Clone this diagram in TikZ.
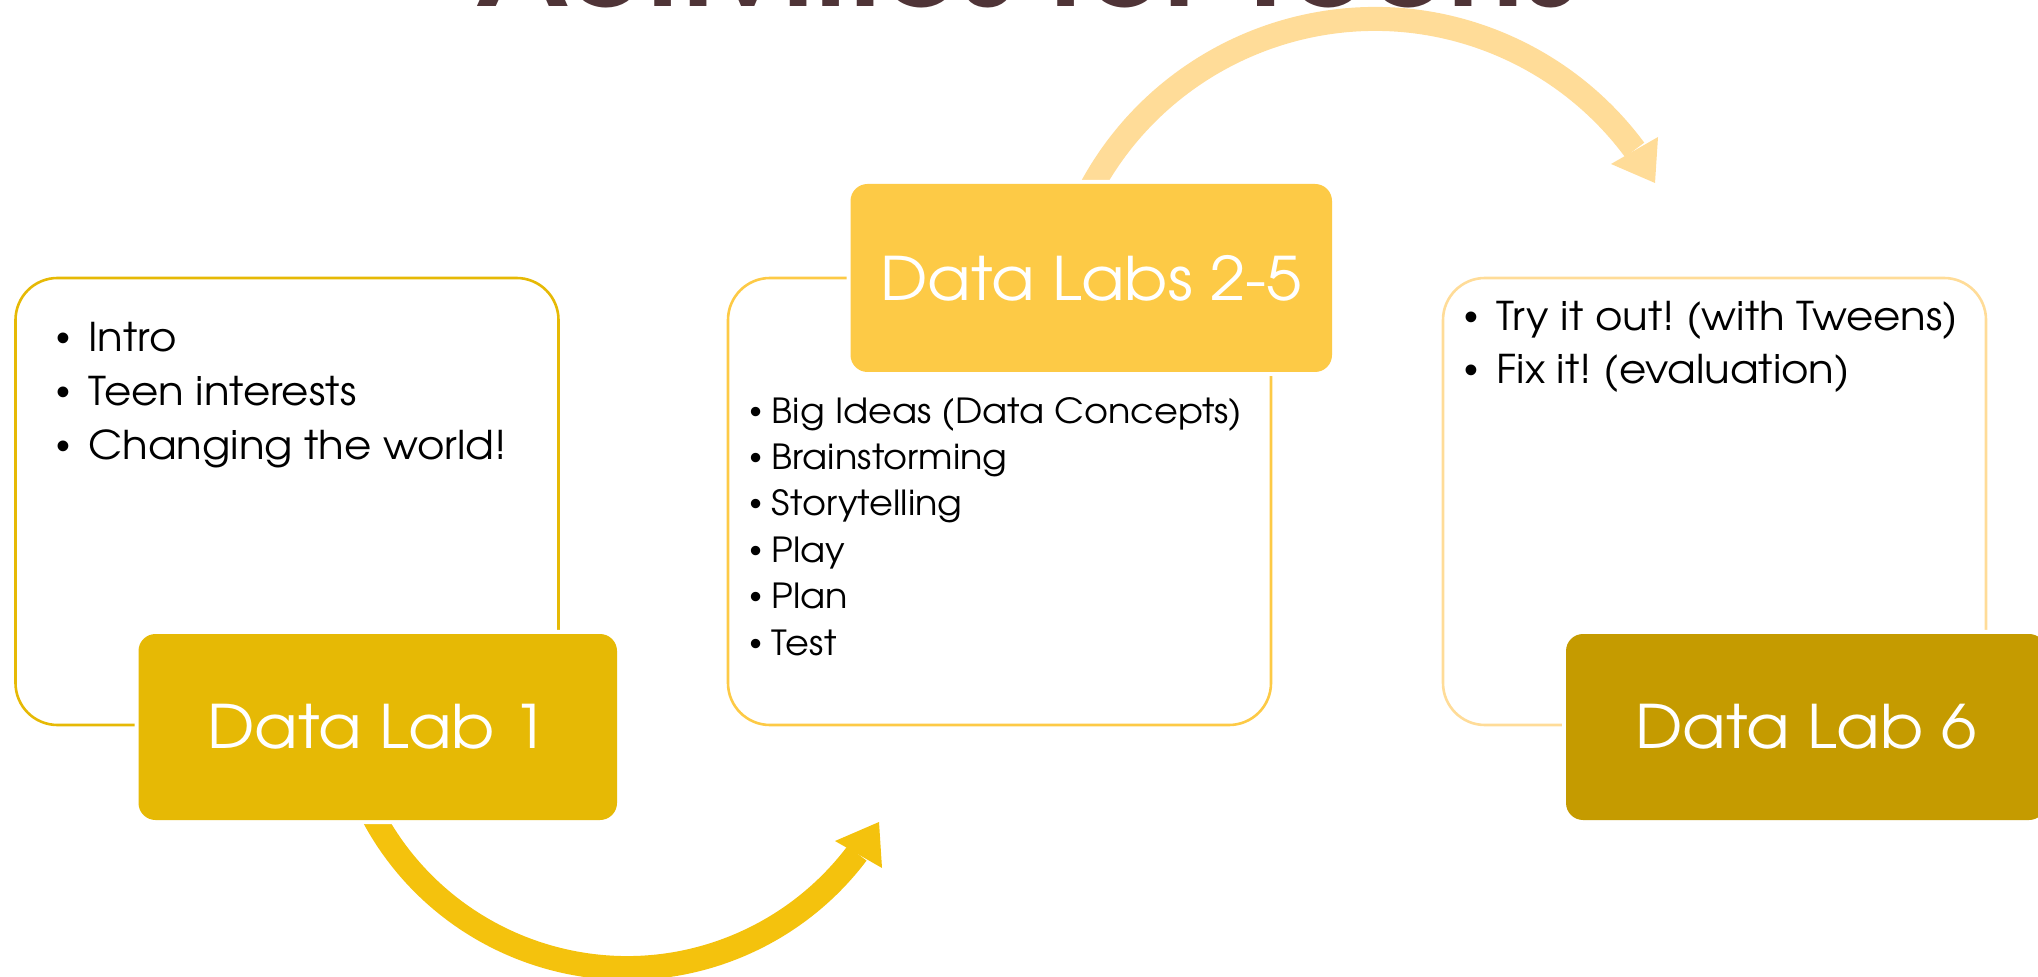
\documentclass[tikz,border=0pt]{standalone}
\usepackage{fontspec}
\IfFontExistsTF{TeX Gyre Adventor}{\setmainfont{TeX Gyre Adventor}[FakeStretch=1.06]}{\setmainfont{Poppins}}
\newfontfamily\bulfont{Liberation Sans}
\frenchspacing
\definecolor{goldA}{HTML}{E6B905}
\definecolor{arrowA}{HTML}{F4C20D}
\definecolor{goldB}{HTML}{FDCA46}
\definecolor{paleC}{HTML}{FFDC98}
\definecolor{darkC}{HTML}{C59B00}
\definecolor{titlebrown}{HTML}{4F3437}
\tikzset{
  outl/.style={draw=#1, line width=1.3pt, rounded corners=21pt, inner sep=0pt,
    minimum width=271.5pt, minimum height=223.5pt},
  labbox/.style={fill=#1, rounded corners=8.5pt, inner sep=0pt,
    preaction={draw=white, line width=4pt}, text=white,
    font=\fontsize{30}{36}\selectfont, minimum height=93pt},
  itemA/.style={anchor=base west, inner sep=0pt, font=\fontsize{19.8}{24}\selectfont},
  itemB/.style={anchor=base west, inner sep=0pt, font=\fontsize{17.3}{21}\selectfont},
  bulA/.style={anchor=base, inner sep=0pt, font=\bulfont\fontsize{19.8}{24}\selectfont},
  bulB/.style={anchor=base, inner sep=0pt, font=\bulfont\fontsize{17.3}{21}\selectfont},
  band/.style={draw=#1, line width=12pt},
}
\begin{document}
\begin{tikzpicture}[x=0.5pt,y=0.5pt]
\clip (0,0) rectangle (2038,-977);
% title (only its lower edge is visible)
\node[anchor=base, inner sep=0pt, text=titlebrown, font=\fontsize{59}{70}\selectfont\bfseries] (title) at (1027,-7) {Activities for Teens};
% curved arrows
\draw[band=arrowA] (627,-680) ++(205:288) arc[start angle=205, end angle=323, radius=288];
\fill[arrowA] (879,-822) -- (835,-841) -- (882,-868) -- cycle;
\draw[band=paleC] (1375,-342) ++(156:323) arc[start angle=156, end angle=36.5, radius=323];
\fill[paleC] (1655,-183) -- (1658,-137) -- (1611,-164) -- cycle;
% outline boxes
\node[outl=goldA] (box1) at (287,-501.5) {};
\node[outl=goldB] (box2) at (999.5,-501.5) {};
\node[outl=paleC] (box3) at (1714.5,-501.5) {};
% filled title boxes
\node[labbox=goldA, minimum width=239.25pt] (lab1) at (377.75,-727) {Data Lab 1};
\node[labbox=goldB, minimum width=240.75pt, minimum height=94pt] (lab25) at (1091.25,-278) {Data Labs 2-5};
\node[labbox=darkC, minimum width=240pt] (lab6) at (1806,-727) {Data Lab 6};
% box 1 items
\node[bulA] (b1a) at (63,-351.7) {•};
\node[itemA] (t1a) at (88,-351.7) {Intro};
\node[bulA] (b1b) at (63,-406) {•};
\node[itemA] (t1b) at (88,-406) {Teen interests};
\node[bulA] (b1c) at (63,-459.3) {•};
\node[itemA] (t1c) at (88,-459.3) {Changing the world!};
% box 2 items
\node[bulB] (b2a) at (755.6,-423.6) {•};
\node[itemB] (t2a) at (771.4,-423.6) {Big Ideas (Data Concepts)};
\node[bulB] (b2b) at (755.6,-469.3) {•};
\node[itemB] (t2b) at (771.4,-469.3) {Brainstorming};
\node[bulB] (b2c) at (755.6,-515.4) {•};
\node[itemB] (t2c) at (771.4,-515.4) {Storytelling};
\node[bulB] (b2d) at (755.6,-562.9) {•};
\node[itemB] (t2d) at (771.4,-562.9) {Play};
\node[bulB] (b2e) at (755.6,-608.6) {•};
\node[itemB] (t2e) at (771.4,-608.6) {Plan};
\node[bulB] (b2f) at (755.6,-655) {•};
\node[itemB] (t2f) at (771.4,-655) {Test};
% box 3 items
\node[bulA] (b3a) at (1471,-331) {•};
\node[itemA] (t3a) at (1496,-331) {Try it out! (with Tweens)};
\node[bulA] (b3b) at (1471,-383.3) {•};
\node[itemA] (t3b) at (1496,-383.3) {Fix it! (evaluation)};
\end{tikzpicture}
\end{document}
